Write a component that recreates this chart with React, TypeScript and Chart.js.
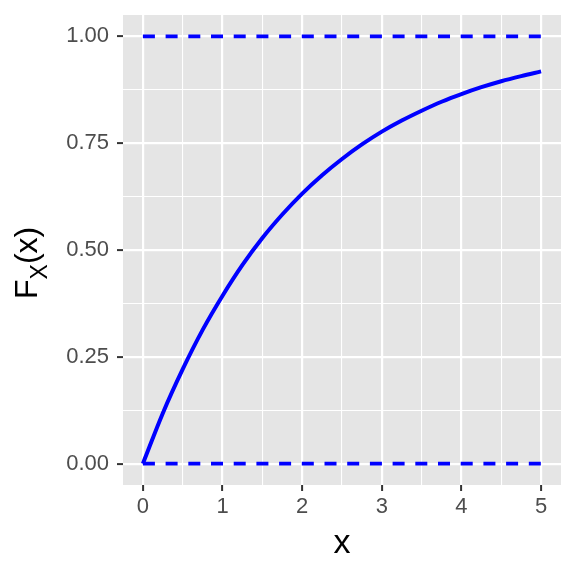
import React, { useEffect, useRef } from "react";
import { Chart, registerables } from "chart.js";

Chart.register(...registerables);

const curveX = [0, 0.25, 0.5, 0.75, 1, 1.25, 1.5, 1.75, 2, 2.25, 2.5, 2.75, 3, 3.25, 3.5, 3.75, 4, 4.25, 4.5, 4.75, 5];
const curveY = [0, 0.118, 0.221, 0.313, 0.393, 0.465, 0.528, 0.583, 0.632, 0.675, 0.713, 0.747, 0.777, 0.803, 0.826, 0.847, 0.865, 0.881, 0.895, 0.907, 0.918];
const boundX = [0, 5];
const lowerY = [0, 0];
const upperY = [1, 1];
const xTicks = [0, 0.5, 1, 1.5, 2, 2.5, 3, 3.5, 4, 4.5, 5];
const xMajor = [0, 1, 2, 3, 4, 5];
const yTicks = [0, 0.125, 0.25, 0.375, 0.5, 0.625, 0.75, 0.875, 1];
const yMajor = [0, 0.25, 0.5, 0.75, 1];
const xTitle = "x";
const yTitleMain = "F";
const yTitleSub = "X";
const yTitleRest = "(x)";

const FONT = "'Liberation Sans', Arial, Helvetica, sans-serif";

const isMajor = (arr: number[], v: number) => arr.some((m) => Math.abs(m - v) < 1e-9);

const panelPlugin = {
  id: "panelBg",
  beforeDraw(chart: any) {
    const { ctx, chartArea } = chart;
    ctx.save();
    ctx.fillStyle = "#E5E5E5";
    ctx.fillRect(chartArea.left, chartArea.top, chartArea.right - chartArea.left, chartArea.bottom - chartArea.top);
    ctx.restore();
  },
  afterDraw(chart: any) {
    const { ctx, chartArea } = chart;
    ctx.save();
    ctx.fillStyle = "#000000";
    ctx.font = `34px ${FONT}`;
    ctx.textAlign = "center";
    ctx.textBaseline = "alphabetic";
    ctx.fillText(xTitle, (chartArea.left + chartArea.right) / 2, 553);

    ctx.translate(37, 299);
    ctx.rotate(-Math.PI / 2);
    ctx.textAlign = "left";
    ctx.font = `32px ${FONT}`;
    ctx.fillText(yTitleMain, 0, 0);
    let off = ctx.measureText(yTitleMain).width;
    ctx.font = `23px ${FONT}`;
    ctx.fillText(yTitleSub, off, 10);
    off += ctx.measureText(yTitleSub).width;
    ctx.font = `32px ${FONT}`;
    ctx.fillText(yTitleRest, off, 0);
    ctx.restore();
  },
};

export default function App() {
  const ref = useRef<HTMLCanvasElement | null>(null);
  useEffect(() => {
    if (!ref.current) return;
    const chart = new Chart(ref.current, {
      type: "line",
      data: {
        datasets: [
          {
            data: boundX.map((x, i) => ({ x, y: lowerY[i] })),
            borderColor: "#0000FF",
            borderWidth: 3.6,
            borderDash: [12, 10.7],
            borderCapStyle: "butt",
            pointRadius: 0,
          },
          {
            data: boundX.map((x, i) => ({ x, y: upperY[i] })),
            borderColor: "#0000FF",
            borderWidth: 3.6,
            borderDash: [12, 10.7],
            borderCapStyle: "butt",
            pointRadius: 0,
          },
          {
            data: curveX.map((x, i) => ({ x, y: curveY[i] })),
            borderColor: "#0000FF",
            borderWidth: 4,
            pointRadius: 0,
            cubicInterpolationMode: "monotone",
          },
        ],
      },
      options: {
        responsive: false,
        animation: false,
        devicePixelRatio: 1,
        layout: { padding: { top: 15, right: 15, bottom: 0, left: 0 } },
        plugins: { legend: { display: false }, tooltip: { enabled: false }, title: { display: false } },
        scales: {
          x: {
            type: "linear",
            min: -0.25,
            max: 5.25,
            afterBuildTicks: (s: any) => {
              s.ticks = xTicks.map((v) => ({ value: v }));
            },
            afterFit: (s: any) => {
              s.height = 91;
              s.paddingLeft = 0;
              s.paddingRight = 0;
              s.paddingTop = 0;
              s.paddingBottom = 0;
            },
            border: { display: false },
            grid: {
              color: "#FFFFFF",
              lineWidth: (c: any) => (isMajor(xMajor, c.tick.value) ? 2.2 : 1.1),
              tickColor: (c: any) => (isMajor(xMajor, c.tick.value) ? "#333333" : "rgba(0,0,0,0)"),
              tickWidth: 2,
              tickLength: 6,
            },
            ticks: {
              autoSkip: false,
              maxRotation: 0,
              padding: 3,
              color: "#4D4D4D",
              font: { family: FONT, size: 22 },
              callback: (v: any) => (isMajor(xMajor, Number(v)) ? String(Math.round(Number(v))) : ""),
            },
          },
          y: {
            type: "linear",
            min: -0.05,
            max: 1.05,
            afterBuildTicks: (s: any) => {
              s.ticks = yTicks.map((v) => ({ value: v }));
            },
            afterFit: (s: any) => {
              s.width = 123;
              s.paddingLeft = 0;
              s.paddingRight = 0;
              s.paddingTop = 0;
              s.paddingBottom = 0;
            },
            border: { display: false },
            grid: {
              color: "#FFFFFF",
              lineWidth: (c: any) => (isMajor(yMajor, c.tick.value) ? 2.2 : 1.1),
              tickColor: (c: any) => (isMajor(yMajor, c.tick.value) ? "#333333" : "rgba(0,0,0,0)"),
              tickWidth: 2,
              tickLength: 6,
            },
            ticks: {
              autoSkip: false,
              padding: 8,
              color: "#4D4D4D",
              font: { family: FONT, size: 22 },
              callback: (v: any) => (isMajor(yMajor, Number(v)) ? Number(v).toFixed(2) : ""),
            },
          },
        },
      },
      plugins: [panelPlugin],
    } as any);
    return () => chart.destroy();
  }, []);
  return (
    <div style={{ position: "fixed", left: 0, top: 0, width: 576, height: 576, background: "#FFFFFF" }}>
      <canvas ref={ref} width={576} height={576} style={{ display: "block" }} />
    </div>
  );
}
